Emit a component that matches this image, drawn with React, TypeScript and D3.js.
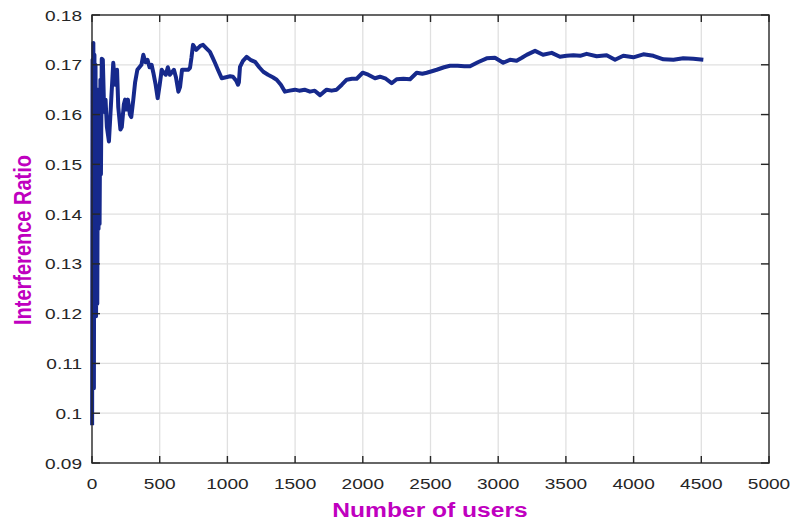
import React, { useEffect, useRef } from 'react'
import * as d3 from 'd3'

// interference ratio vs number of users
const users = [
  1, 4, 7, 10, 14, 18, 22, 26, 30, 35, 39, 44, 48, 52, 56, 62, 66, 72, 80, 90,
  100, 110, 125, 140, 157, 170, 185, 194, 210, 220, 235, 244, 255, 265, 280, 290, 305, 318, 335, 350,
  365, 379, 395, 410, 425, 440, 453, 470, 485, 500, 515, 527, 545, 560, 575, 590, 605, 620, 638, 650,
  665, 690, 710, 724, 735, 746, 770, 800, 820, 845, 871, 890, 908, 930, 958, 990, 1020, 1041, 1065, 1078,
  1085, 1093, 1115, 1142, 1170, 1204, 1235, 1265, 1300, 1335, 1364, 1395, 1425, 1460, 1499, 1530, 1570, 1610, 1645, 1684,
  1710, 1733, 1770, 1807, 1845, 1881, 1920, 1955, 1999, 2040, 2090, 2127, 2170, 2213, 2250, 2300, 2349, 2398, 2440, 2472,
  2510, 2546, 2600, 2644, 2700, 2750, 2792, 2850, 2915, 2976, 3037, 3087, 3136, 3175, 3210, 3272, 3331, 3395, 3456, 3505,
  3555, 3605, 3653, 3727, 3801, 3863, 3924, 3998, 4072, 4146, 4220, 4294, 4367, 4441, 4515,
]
const ratio = [
  0.0976, 0.171, 0.110, 0.1744, 0.105, 0.172, 0.125, 0.170, 0.1195, 0.160, 0.122, 0.165, 0.137, 0.150, 0.138, 0.167, 0.148, 0.1712, 0.171, 0.1605,
  0.163, 0.1575, 0.1546, 0.162, 0.1704, 0.166, 0.169, 0.1615, 0.157, 0.1575, 0.162, 0.163, 0.161, 0.163, 0.160, 0.1595, 0.163, 0.1664, 0.169, 0.1695,
  0.170, 0.172, 0.1705, 0.171, 0.1695, 0.170, 0.1684, 0.166, 0.1633, 0.166, 0.169, 0.1685, 0.168, 0.1695, 0.168, 0.1685, 0.169, 0.1675, 0.1646, 0.1655,
  0.169, 0.169, 0.169, 0.1694, 0.1715, 0.174, 0.173, 0.1738, 0.174, 0.1733, 0.1726, 0.1715, 0.1704, 0.169, 0.1673, 0.1675, 0.1677, 0.1676, 0.1668, 0.166,
  0.1665, 0.1696, 0.1708, 0.1716, 0.171, 0.1706, 0.1695, 0.1686, 0.168, 0.1675, 0.167, 0.166, 0.1646, 0.1648, 0.165, 0.1648, 0.165, 0.1646, 0.1648, 0.1639,
  0.1645, 0.165, 0.1648, 0.165, 0.166, 0.167, 0.1672, 0.1672, 0.1684, 0.168, 0.1673, 0.1676, 0.1672, 0.1663, 0.1671, 0.1672, 0.1671, 0.1684, 0.1682, 0.1684,
  0.1687, 0.169, 0.1695, 0.1698, 0.1698, 0.1697, 0.1697, 0.1705, 0.1713, 0.1714, 0.1704, 0.171, 0.1708, 0.1714, 0.172, 0.1728, 0.172, 0.1724, 0.1716, 0.1718,
  0.1719, 0.1718, 0.1722, 0.1717, 0.1719, 0.171, 0.1718, 0.1715, 0.1721, 0.1718, 0.1711, 0.171, 0.1713, 0.1712, 0.171,
]
const xTicks = [0, 500, 1000, 1500, 2000, 2500, 3000, 3500, 4000, 4500, 5000]
const yTicks = [0.09, 0.1, 0.11, 0.12, 0.13, 0.14, 0.15, 0.16, 0.17, 0.18]

const W = 792
const H = 523
const left = 92
const right = 769
const top = 15
const bottom = 463
const stretch = 1.23 // picture is widened horizontally

const App = () => {
  const refSvg = useRef(null)

  useEffect(() => {
    const svg = d3.select(refSvg.current)
    svg.selectAll('*').remove()

    const x = d3.scaleLinear().domain([0, 5000]).range([left, right])
    const y = d3.scaleLinear().domain([0.09, 0.18]).range([bottom, top])

    // grid
    const grid = svg.append('g').attr('stroke', '#e0e0e0').attr('stroke-width', 1.3)
    xTicks.slice(1, -1).forEach((t) => {
      grid.append('line').attr('x1', x(t)).attr('x2', x(t)).attr('y1', top).attr('y2', bottom)
    })
    yTicks.slice(1, -1).forEach((t) => {
      grid.append('line').attr('x1', left).attr('x2', right).attr('y1', y(t)).attr('y2', y(t))
    })

    // data line
    const pts = users.map((u, i) => [u, ratio[i]] as [number, number])
    svg
      .append('path')
      .datum(pts)
      .attr('fill', 'none')
      .attr('stroke', '#16298c')
      .attr('stroke-width', 4)
      .attr('stroke-linejoin', 'round')
      .attr('d', d3.line().x((d) => x(d[0])).y((d) => y(d[1])))

    // box + inward ticks
    const ax = svg.append('g').attr('stroke', '#262626').attr('stroke-width', 1.4).attr('fill', 'none')
    ax.append('rect').attr('x', left).attr('y', top).attr('width', right - left).attr('height', bottom - top)
    xTicks.forEach((t) => {
      ax.append('line').attr('x1', x(t)).attr('x2', x(t)).attr('y1', bottom).attr('y2', bottom - 7)
      ax.append('line').attr('x1', x(t)).attr('x2', x(t)).attr('y1', top).attr('y2', top + 7)
    })
    yTicks.forEach((t) => {
      ax.append('line').attr('x1', left).attr('x2', left + 8).attr('y1', y(t)).attr('y2', y(t))
      ax.append('line').attr('x1', right).attr('x2', right - 8).attr('y1', y(t)).attr('y2', y(t))
    })

    const fnt = '"Liberation Sans", Arial, sans-serif'
    const fmt = d3.format('')

    svg
      .append('g')
      .selectAll('text')
      .data(xTicks)
      .enter()
      .append('text')
      .attr('transform', (d) => `translate(${x(d)},489) scale(${stretch},1)`)
      .attr('text-anchor', 'middle')
      .attr('font-family', fnt)
      .attr('font-size', 15.5)
      .attr('fill', '#262626')
      .text((d) => fmt(d))

    svg
      .append('g')
      .selectAll('text')
      .data(yTicks)
      .enter()
      .append('text')
      .attr('transform', (d) => `translate(82,${y(d) + 5.5}) scale(${stretch},1)`)
      .attr('text-anchor', 'end')
      .attr('font-family', fnt)
      .attr('font-size', 15.5)
      .attr('fill', '#262626')
      .text((d) => String(+d.toFixed(2)))

    svg
      .append('text')
      .attr('transform', `translate(430,516.5) scale(${stretch},1)`)
      .attr('text-anchor', 'middle')
      .attr('font-family', fnt)
      .attr('font-weight', 'bold')
      .attr('font-size', 20)
      .attr('fill', '#bf00bf')
      .text('Number of users')

    svg
      .append('text')
      .attr('transform', `translate(31,240) scale(${stretch},1) rotate(-90)`)
      .attr('text-anchor', 'middle')
      .attr('font-family', fnt)
      .attr('font-weight', 'bold')
      .attr('font-size', 20)
      .attr('fill', '#bf00bf')
      .text('Interference Ratio')
  }, [])

  return (
    <svg
      ref={refSvg}
      width={W}
      height={H}
      style={{ position: 'absolute', left: 0, top: 0, background: '#fff' }}
    />
  )
}

export default App
